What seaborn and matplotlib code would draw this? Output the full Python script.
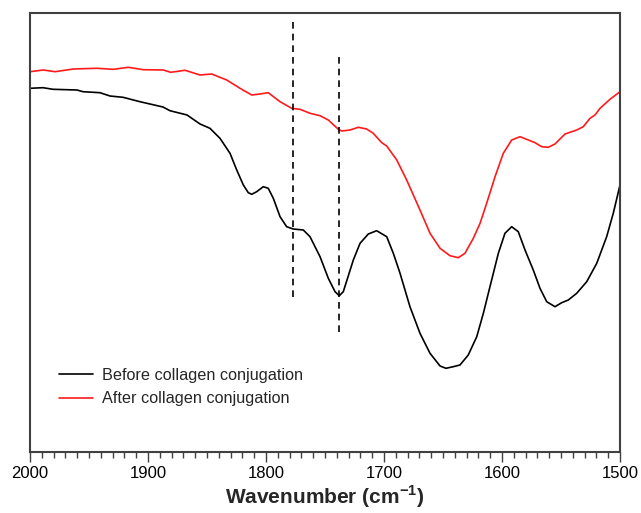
import matplotlib
matplotlib.use("Agg")
import matplotlib.pyplot as plt
import seaborn as sns
import pandas as pd
from matplotlib.ticker import MultipleLocator

# Wavenumbers (cm^-1) and intensities (a.u.)
before_wn = [2000.0, 1989.0, 1980.5, 1960.2, 1955.1, 1940.7, 1932.2, 1921.2, 1906.8, 1887.3,
             1881.4, 1866.9, 1855.9, 1847.5, 1839.0, 1830.5, 1824.8, 1819.2, 1815.0, 1812.1,
             1807.9, 1802.3, 1798.1, 1793.8, 1788.1, 1782.5, 1776.9, 1768.4, 1762.7, 1754.2,
             1747.2, 1741.5, 1737.9, 1734.5, 1726.0, 1720.3, 1713.3, 1706.2, 1697.7, 1692.1,
             1686.4, 1678.0, 1669.5, 1661.0, 1652.5, 1647.5, 1641.3, 1635.6, 1628.6, 1621.4,
             1615.8, 1610.2, 1603.1, 1597.5, 1591.8, 1586.2, 1580.5, 1573.5, 1567.8, 1562.1,
             1555.1, 1549.4, 1543.8, 1536.7, 1528.2, 1519.7, 1511.3, 1505.7, 1500.0]
before_val = [369.7, 370.3, 368.7, 368.0, 366.3, 365.3, 362.0, 360.7, 356.3, 351.0,
              347.3, 343.0, 334.0, 329.7, 319.7, 304.7, 288.0, 273.0, 265.3, 263.7,
              266.3, 271.3, 269.7, 259.7, 241.3, 231.3, 229.0, 228.0, 221.3, 201.3,
              179.7, 166.3, 162.3, 166.3, 198.0, 214.7, 224.0, 227.3, 221.3, 204.7,
              184.7, 151.3, 124.7, 104.7, 92.0, 89.7, 91.3, 93.0, 103.0, 121.3,
              144.7, 171.3, 204.7, 224.7, 231.3, 226.3, 208.0, 188.0, 169.7, 156.3,
              151.3, 155.3, 158.0, 164.7, 176.3, 194.7, 221.3, 244.7, 273.0]

after_wn = [2000.0, 1988.7, 1978.8, 1963.3, 1943.5, 1929.4, 1916.7, 1904.0, 1887.0, 1880.8,
            1868.6, 1855.9, 1846.0, 1833.3, 1822.0, 1812.1, 1805.1, 1798.1, 1788.1, 1778.2,
            1771.2, 1762.7, 1754.2, 1747.2, 1738.7, 1735.8, 1728.8, 1721.8, 1714.7, 1709.1,
            1701.9, 1697.7, 1689.2, 1680.8, 1669.5, 1661.0, 1652.5, 1644.1, 1637.0, 1631.4,
            1624.3, 1618.6, 1613.0, 1605.9, 1598.9, 1591.8, 1584.7, 1577.7, 1572.0, 1566.4,
            1560.8, 1555.1, 1546.6, 1536.7, 1531.1, 1525.4, 1521.2, 1516.9, 1508.5, 1500.0]
after_val = [386.3, 388.0, 386.3, 389.0, 389.7, 388.7, 390.7, 388.3, 388.0, 385.7,
             387.7, 383.0, 384.0, 378.0, 369.7, 363.0, 364.0, 365.3, 356.3, 349.7,
             348.7, 344.7, 342.3, 338.0, 328.7, 327.0, 328.0, 330.7, 329.0, 324.7,
             315.3, 312.0, 298.0, 278.0, 248.0, 224.7, 209.7, 202.3, 200.3, 204.7,
             219.7, 234.7, 254.7, 281.3, 304.7, 318.0, 321.3, 318.0, 315.3, 311.3,
             310.7, 314.0, 324.0, 328.0, 331.3, 339.7, 343.0, 349.7, 358.7, 366.3]

series_names = ["Before collagen conjugation", "After collagen conjugation"]
series_colors = ["#000000", "#ff1a1a"]

# Dashed marker lines: position, bottom, top
marker_wn = [1777, 1738]
marker_lo = [161, 126]
marker_hi = [437, 403]

sns.set_theme(style="white")
plt.rcParams["font.family"] = ["Liberation Sans", "DejaVu Sans"]
plt.rcParams["mathtext.fontset"] = "custom"
plt.rcParams["mathtext.rm"] = "Liberation Sans"
plt.rcParams["mathtext.bf"] = "Liberation Sans:bold"

df = pd.concat([
    pd.DataFrame({"wn": before_wn, "val": before_val, "series": series_names[0]}),
    pd.DataFrame({"wn": after_wn, "val": after_val, "series": series_names[1]}),
])

fig = plt.figure(figsize=(6.41, 5.13), dpi=100)
ax = fig.add_axes([30 / 641, 1 - 452 / 513, 590 / 641, 439 / 513])

sns.lineplot(data=df, x="wn", y="val", hue="series", hue_order=series_names,
             palette=series_colors, linewidth=1.2, ax=ax, estimator=None, sort=True)
for ln in ax.get_lines():
    ln.set_solid_joinstyle("round")

ax.vlines(marker_wn, marker_lo, marker_hi, colors="black", linestyles=(0, (4, 3)), linewidth=1.2)

ax.set_xlim(2000, 1500)
ax.set_ylim(6, 445)
ax.set_yticks([])
ax.set_ylabel("")
ax.xaxis.set_major_locator(MultipleLocator(100))
ax.xaxis.set_minor_locator(MultipleLocator(10))
ax.tick_params(axis="x", which="major", direction="out", length=7, width=1.0,
               color="#404040", bottom=True, labelsize=12, pad=3, labelcolor="black")
ax.tick_params(axis="x", which="minor", direction="out", length=4, width=1.0,
               color="#404040", bottom=True)
for s in ax.spines.values():
    s.set_color("#404040")
    s.set_linewidth(1.5)
    s.set_visible(True)

ax.set_xlabel(r"Wavenumber (cm$^{\mathbf{-1}}$)", fontsize=15, fontweight="bold", labelpad=2)

leg = ax.legend(loc="upper left", bbox_to_anchor=(0.049, 0.191), frameon=False,
                fontsize=11.7, handlelength=2.1, handletextpad=0.56, labelspacing=0.5,
                borderpad=0, borderaxespad=0, title=None)
for h in leg.get_lines():
    h.set_linewidth(1.2)

fig.savefig("out.png", dpi=100)
